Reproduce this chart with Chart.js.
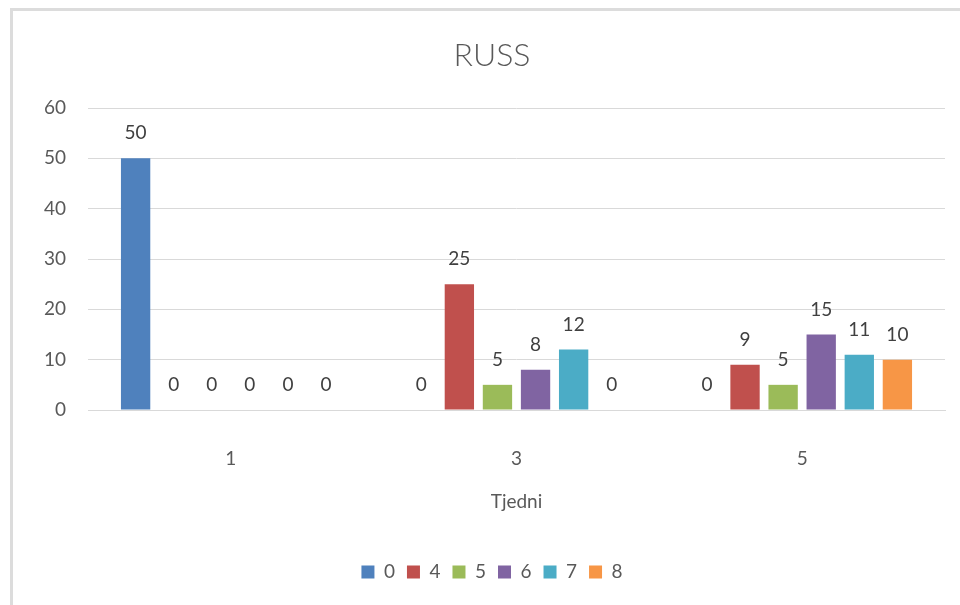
<!DOCTYPE html>
<html>
<head>
<meta charset="utf-8">
<script src="https://cdn.jsdelivr.net/npm/chart.js@4.4.1/dist/chart.umd.min.js"></script>
<style>
  html, body { margin: 0; padding: 0; background: #fff; }
  #wrap { position: relative; width: 960px; height: 605px; }
  #frame {
    position: absolute; left: 10px; top: 8px; right: -10px; bottom: -10px;
    border-left: 3px solid #dcdcdc; border-top: 3px solid #dcdcdc;
    pointer-events: none;
  }
</style>
</head>
<body>
<div id="wrap">
  <canvas id="chart" width="960" height="605"></canvas>
  <div id="frame"></div>
</div>
<script>
const weeks = ['1', '3', '5'];
const seriesNames = ['0', '4', '5', '6', '7', '8'];
const s0 = [50, 0, 0];
const s4 = [0, 25, 9];
const s5 = [0, 5, 5];
const s6 = [0, 8, 15];
const s7 = [0, 12, 11];
const s8 = [0, 0, 10];
const yTicks = [0, 10, 20, 30, 40, 50, 60];

const colors = ['#4f81bd', '#c0504d', '#9bbb59', '#8064a2', '#4bacc6', '#f79646'];
const FONT = 'Lato, "Open Sans", sans-serif';

// value labels above each bar
const barLabels = {
  id: 'barLabels',
  afterDatasetsDraw(chart) {
    const ctx = chart.ctx;
    ctx.save();
    ctx.font = `19px ${FONT}`;
    ctx.fillStyle = '#404040';
    ctx.textAlign = 'center';
    ctx.textBaseline = 'middle';
    chart.data.datasets.forEach((ds, i) => {
      chart.getDatasetMeta(i).data.forEach((bar, j) => {
        ctx.fillText(String(ds.data[j]), bar.x, bar.y - 25);
      });
    });
    ctx.restore();
  },
};

const allSeries = [s0, s4, s5, s6, s7, s8];

new Chart(document.getElementById('chart'), {
  type: 'bar',
  data: {
    labels: weeks,
    datasets: allSeries.map((data, i) => ({
      label: seriesNames[i],
      data,
      backgroundColor: colors[i],
      categoryPercentage: 0.8,
      barPercentage: 0.77,
    })),
  },
  options: {
    responsive: false,
    animation: false,
    layout: { padding: { left: 39, right: 15, top: 0, bottom: 13.5 } },
    plugins: {
      title: {
        display: true,
        text: 'RUSS',
        color: '#595959',
        font: { family: FONT, size: 32, weight: '300' },
        padding: { top: 36, bottom: 33.6 },
      },
      legend: {
        position: 'bottom',
        labels: {
          boxWidth: 13,
          boxHeight: 13,
          padding: 12,
          color: '#595959',
          font: { family: FONT, size: 19 },
        },
      },
      tooltip: { enabled: false },
    },
    scales: {
      x: {
        grid: { display: false },
        border: { color: '#d9d9d9' },
        ticks: { color: '#595959', font: { family: FONT, size: 19 }, padding: 29 },
        title: {
          display: true,
          text: 'Tjedni',
          color: '#595959',
          font: { family: FONT, size: 19 },
          padding: { top: 0, bottom: 37.1 },
        },
        afterFit(scale) { scale.height = 140.5; },
      },
      y: {
        min: yTicks[0],
        max: yTicks[yTicks.length - 1],
        afterBuildTicks(scale) { scale.ticks = yTicks.map((v) => ({ value: v })); },
        grid: { color: '#d9d9d9', drawTicks: false },
        border: { display: false },
        ticks: { color: '#595959', font: { family: FONT, size: 19 }, padding: 22 },
        afterFit(scale) { scale.width = 49; },
      },
    },
  },
  plugins: [barLabels],
});
</script>
</body>
</html>
